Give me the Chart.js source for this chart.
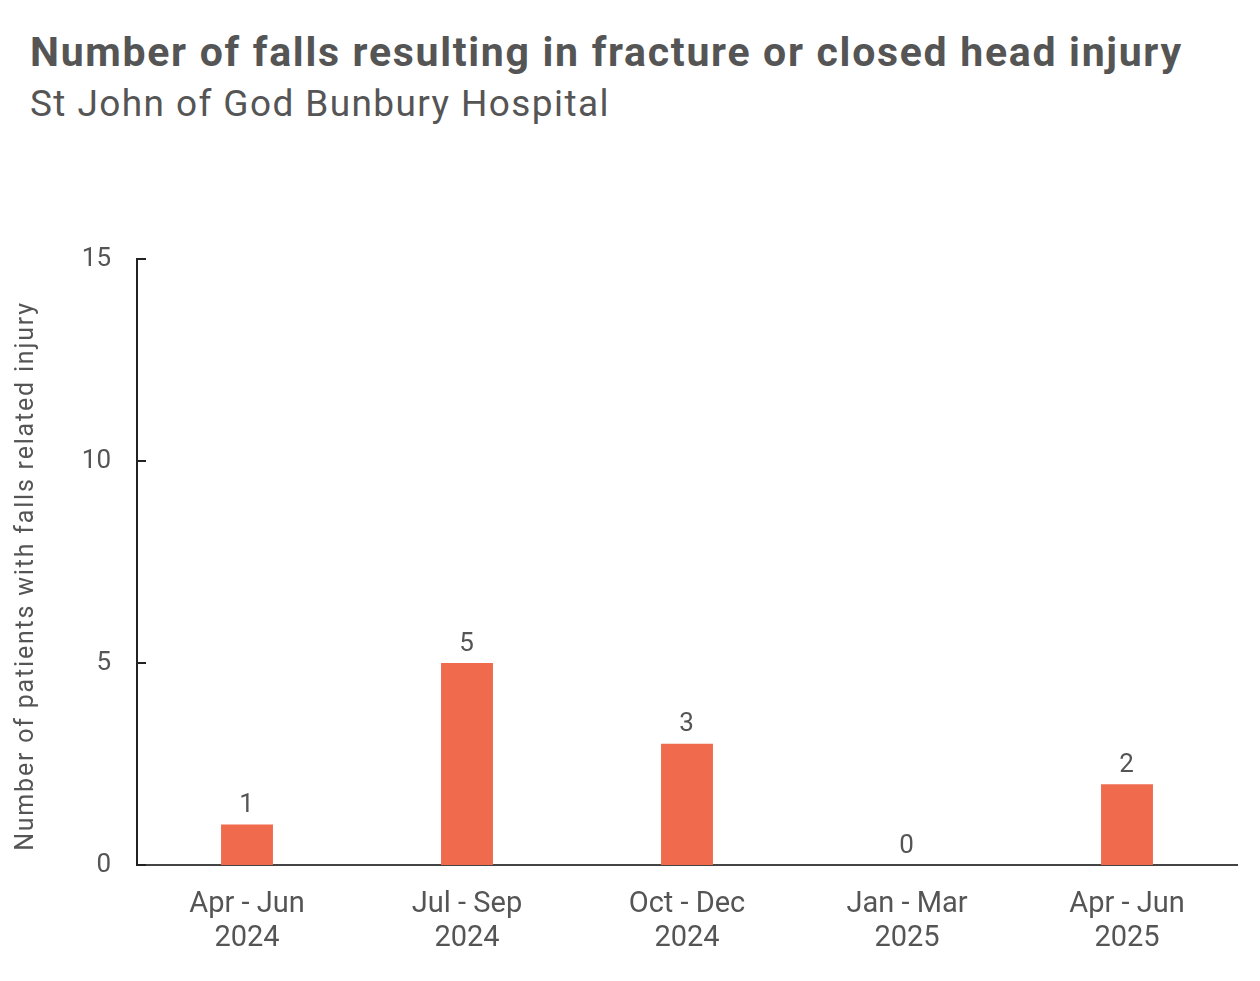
<!DOCTYPE html>
<html>
<head>
<meta charset="utf-8">
<script src="https://cdn.jsdelivr.net/npm/chart.js@4/dist/chart.umd.min.js"></script>
<style>
  body { margin: 0; background: #fff; font-family: Roboto, sans-serif; }
  #wrap { position: relative; width: 1260px; height: 981px; }
  #titulo { position: absolute; left: 30px; top: 28px; font-size: 41px; font-weight: bold; color: #555; white-space: nowrap; letter-spacing: 1.7px; }
  #subtitulo { position: absolute; left: 30px; top: 82px; font-size: 37px; color: #555; white-space: nowrap; letter-spacing: 1.4px; }
  canvas { position: absolute; left: 0; top: 0; }
</style>
</head>
<body>
<div id="wrap">
  <div id="titulo">Number of falls resulting in fracture or closed head injury</div>
  <div id="subtitulo">St John of God Bunbury Hospital</div>
  <canvas id="grafico" width="1260" height="981"></canvas>
</div>
<script>
// DADOS
const categorias = [["Apr - Jun", "2024"], ["Jul - Sep", "2024"], ["Oct - Dec", "2024"], ["Jan - Mar", "2025"], ["Apr - Jun", "2025"]];
const valores = [1, 5, 3, 0, 2];
const ticksY = [0, 5, 10, 15];
const tituloY = "Number of patients with falls related injury";

const corBarra = "#F06B4D";
const corTexto = "#555555";

// rótulos em cima das barras, marcas dos ticks para dentro e título do eixo Y
const extras = {
  id: "extras",
  afterDatasetsDraw(chart) {
    const ctx = chart.ctx;
    const meta = chart.getDatasetMeta(0);
    ctx.save();
    ctx.fillStyle = corTexto;
    ctx.font = "26px Roboto";
    ctx.letterSpacing = "1px";
    ctx.textAlign = "center";
    ctx.textBaseline = "bottom";
    meta.data.forEach((bar, i) => {
      ctx.fillText(valores[i], bar.x, bar.y - 6);
    });
    const y = chart.scales.y;
    ctx.strokeStyle = "#222";
    ctx.lineWidth = 2;
    ticksY.forEach((t) => {
      const py = Math.round(y.getPixelForValue(t));
      ctx.beginPath();
      ctx.moveTo(chart.chartArea.left, py);
      ctx.lineTo(chart.chartArea.left + 9, py);
      ctx.stroke();
    });
    // título do eixo Y
    ctx.translate(27, 576);
    ctx.rotate(-Math.PI / 2);
    ctx.font = "25px Roboto";
    ctx.letterSpacing = "1.8px";
    ctx.textBaseline = "middle";
    ctx.fillText(tituloY, 0, 0);
    ctx.restore();
  },
};

new Chart(document.getElementById("grafico"), {
  type: "bar",
  data: {
    labels: categorias,
    datasets: [{
      data: valores,
      backgroundColor: corBarra,
      categoryPercentage: 1,
      barPercentage: 0.236,
    }],
  },
  options: {
    responsive: false,
    animation: false,
    layout: { padding: { top: 259, right: 23, left: 0, bottom: 0 } },
    plugins: { legend: { display: false }, tooltip: { enabled: false } },
    scales: {
      x: {
        grid: { display: false, drawTicks: false },
        border: { color: "#444", width: 2 },
        ticks: { color: corTexto, font: { size: 29, family: "Roboto" }, padding: 22, maxRotation: 0 },
        afterFit: (s) => { s.height = 116; },
      },
      y: {
        min: 0,
        max: 15,
        afterBuildTicks: (s) => { s.ticks = ticksY.map((v) => ({ value: v })); },
        grid: { display: false, drawTicks: false },
        border: { color: "#222", width: 2 },
        ticks: { color: corTexto, font: { size: 26, family: "Roboto" }, padding: 26 },
        afterFit: (s) => { s.width = 137; },
      },
    },
  },
  plugins: [extras],
});
</script>
</body>
</html>
